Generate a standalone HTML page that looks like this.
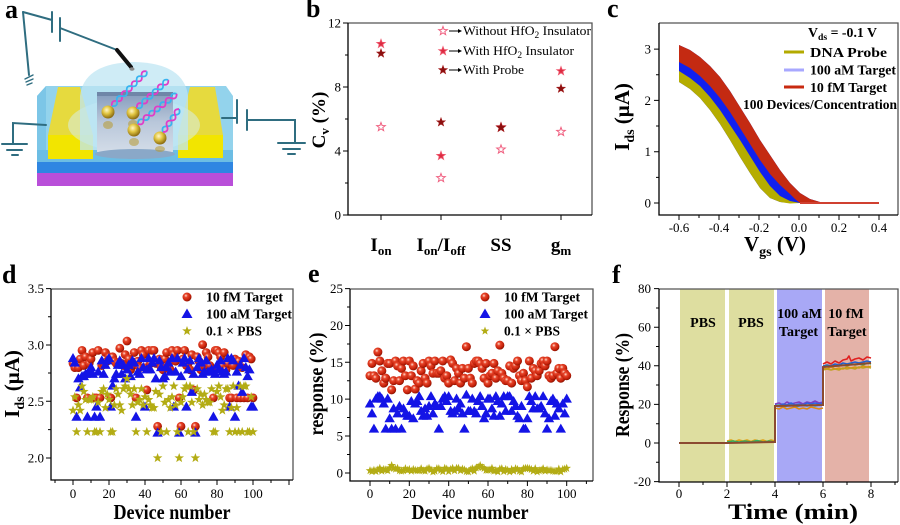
<!DOCTYPE html>
<html><head><meta charset="utf-8">
<style>
html,body{margin:0;padding:0;background:#fff;}
svg{display:block;}
</style></head><body>
<svg width="900" height="525" viewBox="0 0 900 525" xmlns="http://www.w3.org/2000/svg" font-family="'Liberation Serif', serif">
<defs>
<radialGradient id="gball" cx="0.38" cy="0.35" r="0.65">
 <stop offset="0" stop-color="#ffe2d4"/>
 <stop offset="0.3" stop-color="#e8452a"/>
 <stop offset="0.8" stop-color="#c01e08"/>
 <stop offset="1" stop-color="#8a1200"/>
</radialGradient>
<radialGradient id="ggold" cx="0.4" cy="0.35" r="0.65">
 <stop offset="0" stop-color="#fff6c8"/>
 <stop offset="0.45" stop-color="#e2c642"/>
 <stop offset="1" stop-color="#8a6a10"/>
</radialGradient>
<linearGradient id="gbox" x1="0" y1="0" x2="0" y2="1">
 <stop offset="0" stop-color="#8299bb"/>
 <stop offset="0.5" stop-color="#b9c7da"/>
 <stop offset="1" stop-color="#d3dce8"/>
</linearGradient>
<marker id="mball" markerUnits="userSpaceOnUse" markerWidth="10" markerHeight="10" refX="0" refY="0" overflow="visible"><circle r="2.45" fill="url(#gball)"/></marker>
<marker id="mtri" markerUnits="userSpaceOnUse" markerWidth="10" markerHeight="10" refX="0" refY="0" overflow="visible"><polygon points="0,-3.1 2.9,2 -2.9,2" fill="#1414e6"/></marker>
<marker id="mstar" markerUnits="userSpaceOnUse" markerWidth="10" markerHeight="10" refX="0" refY="0" overflow="visible"><polygon points="0,-2.8 0.68,-0.93 2.66,-0.87 1.09,0.36 1.65,2.27 0,1.15 -1.65,2.27 -1.09,0.36 -2.66,-0.87 -0.68,-0.93" fill="#b3ac14"/></marker>
<marker id="mball2" markerUnits="userSpaceOnUse" markerWidth="10" markerHeight="10" refX="0" refY="0" overflow="visible"><circle r="2.3" fill="url(#gball)"/></marker>
<marker id="mtri2" markerUnits="userSpaceOnUse" markerWidth="10" markerHeight="10" refX="0" refY="0" overflow="visible"><polygon points="0,-2.8 2.65,1.8 -2.65,1.8" fill="#1414e6"/></marker>
<marker id="mstar2" markerUnits="userSpaceOnUse" markerWidth="10" markerHeight="10" refX="0" refY="0" overflow="visible"><polygon points="0,-2.3 0.56,-0.76 2.18,-0.71 0.89,0.3 1.35,1.86 0,0.94 -1.35,1.86 -0.89,0.3 -2.18,-0.71 -0.56,-0.76" fill="#b3ac14"/></marker>
</defs>

<!-- ================= PANEL A ================= -->
<g>
 <polygon points="37,173 233,173 233,186 37,186" fill="#b94fd9"/>
 <polygon points="37,162 233,162 233,173 37,173" fill="#2f86e2"/>
 <polygon points="37,96 46,86 226,86 233,96 233,162 37,162" fill="#93d3ec"/>
 <polygon points="37,96 46,86 46,150 37,150" fill="#7cc6e7"/>
 <rect x="37" y="150" width="196" height="12" fill="#6cbde4"/>
 <polygon points="58,87 80,87 93,135 48,135" fill="#e6da3e"/>
 <rect x="48" y="135" width="45" height="24" fill="#f2e500"/>
 <polygon points="190,87 215,87 223,135 178,135" fill="#e6da3e"/>
 <rect x="178" y="135" width="45" height="23" fill="#f2e500"/>
 <ellipse cx="134" cy="125" rx="66" ry="27" fill="#d6eff7" opacity="0.5"/>
 <path d="M80,150 L80,96 Q84,63 134,62 Q184,63 188,96 L188,150 Z" fill="#bfe6f3" opacity="0.75"/>
 <rect x="97" y="92" width="76" height="60" fill="url(#gbox)"/>
 <rect x="97" y="92" width="76" height="4" fill="#6f86a8"/>
 <ellipse cx="135" cy="154" rx="40" ry="5" fill="#8aa8c8"/>
 <g opacity="0.55" fill="#b89a30">
  <ellipse cx="108" cy="125" rx="5" ry="4"/><ellipse cx="133" cy="124" rx="5" ry="4"/><ellipse cx="134" cy="142" rx="5" ry="4"/><ellipse cx="160" cy="149" rx="5" ry="3"/>
 </g>
 <circle cx="108" cy="112" r="6.5" fill="url(#ggold)"/>
 <circle cx="133" cy="113" r="6.5" fill="url(#ggold)"/>
 <circle cx="134" cy="130" r="6.5" fill="url(#ggold)"/>
 <circle cx="160" cy="138" r="6.5" fill="url(#ggold)"/>
 <g fill="none" stroke-width="1.8">
  <g transform="translate(112,106) rotate(-45)"><path d="M0,0 Q3.5,-5 7,0 T14,0 T21,0 T28,0 T35,0 T42,0 T49,0" stroke="#e03cc8"/><path d="M0,0 Q3.5,5 7,0 T14,0 T21,0 T28,0 T35,0 T42,0 T49,0" stroke="#38b4f0"/></g>
  <g transform="translate(137,108) rotate(-42)"><path d="M0,0 Q3.5,-5 7,0 T14,0 T21,0 T28,0 T35,0 T42,0" stroke="#e03cc8"/><path d="M0,0 Q3.5,5 7,0 T14,0 T21,0 T28,0 T35,0 T42,0" stroke="#38b4f0"/></g>
  <g transform="translate(138,124) rotate(-38)"><path d="M0,0 Q3.5,-5 7,0 T14,0 T21,0 T28,0 T35,0 T42,0 T49,0" stroke="#38b4f0"/><path d="M0,0 Q3.5,5 7,0 T14,0 T21,0 T28,0 T35,0 T42,0 T49,0" stroke="#e03cc8"/></g>
  <g transform="translate(163,132) rotate(-55)"><path d="M0,0 Q3.5,-5 7,0 T14,0 T21,0 T28,0" stroke="#38b4f0"/><path d="M0,0 Q3.5,5 7,0 T14,0 T21,0 T28,0" stroke="#e03cc8"/></g>
 </g>
 <g stroke="#2f6d80" stroke-width="2" fill="none" stroke-linecap="round">
  <path d="M23,12 L29,75"/>
  <path d="M23,12 L52,20"/>
  <path d="M52,12 V32"/>
  <path d="M60,18 V41"/>
  <path d="M60,28 L117,50"/>
  <path d="M25,79 L33,75 M26,82 L33,79 M27,85 L32,83" stroke-width="1.4"/>
  <path d="M46,125 L13,123 V143"/>
  <path d="M2,144 H27 M7,150 H22 M12,155 H18"/>
  <path d="M222,118 H237"/>
  <path d="M237,100 V123"/>
  <path d="M247,110 V130"/>
  <path d="M247,120 H295 V143"/>
  <path d="M278,143 H305 M283,149 H300 M288,154 H295"/>
 </g>
 <line x1="117" y1="50" x2="131" y2="67" stroke="#111" stroke-width="4" stroke-linecap="round"/>
 <ellipse cx="132" cy="69" rx="2.5" ry="1.8" fill="#888"/>
 <text x="5" y="18" font-size="26" font-weight="bold">a</text>
</g>

<!-- ================= PANEL B ================= -->
<g>
 <text x="306" y="17" font-size="26" font-weight="bold">b</text>
 <path d="M348,23H592V215" stroke="#555" stroke-width="1.3" fill="none"/>
 <path d="M348,23V215H592" stroke="#000" stroke-width="1.3" fill="none"/>
 <path d="M343,23H348M343,87H348M343,151H348M343,215H348M345,55H348M345,119H348M345,183H348M381,215V220M441,215V220M501,215V220M561,215V220" stroke="#000" stroke-width="1"/>
 <g font-size="13" text-anchor="end">
  <text x="341" y="27.5">12</text><text x="341" y="91.5">8</text><text x="341" y="155.5">4</text><text x="341" y="219.5">0</text>
 </g>
 <g font-size="19" font-weight="bold" text-anchor="middle">
  <text x="381" y="251">I<tspan font-size="13" dy="4">on</tspan></text>
  <text x="441" y="251">I<tspan font-size="13" dy="4">on</tspan><tspan dy="-4">/I</tspan><tspan font-size="13" dy="4">off</tspan></text>
  <text x="501" y="251">SS</text>
  <text x="561" y="251">g<tspan font-size="13" dy="4">m</tspan></text>
 </g>
 <text transform="translate(325,120) rotate(-90)" font-size="19" font-weight="bold" text-anchor="middle">C<tspan font-size="13" dy="4">v</tspan><tspan dy="-4"> (%)</tspan></text>
 <g fill="#fff" stroke="#f06080" stroke-width="1">
  <polygon transform="translate(381,127)" points="0,-4.5 1.1,-1.52 4.28,-1.39 1.79,0.58 2.65,3.64 0,1.88 -2.65,3.64 -1.79,0.58 -4.28,-1.39 -1.1,-1.52"/>
  <polygon transform="translate(441,178)" points="0,-4.5 1.1,-1.52 4.28,-1.39 1.79,0.58 2.65,3.64 0,1.88 -2.65,3.64 -1.79,0.58 -4.28,-1.39 -1.1,-1.52"/>
  <polygon transform="translate(501,149.4)" points="0,-4.5 1.1,-1.52 4.28,-1.39 1.79,0.58 2.65,3.64 0,1.88 -2.65,3.64 -1.79,0.58 -4.28,-1.39 -1.1,-1.52"/>
  <polygon transform="translate(561,131.8)" points="0,-4.5 1.1,-1.52 4.28,-1.39 1.79,0.58 2.65,3.64 0,1.88 -2.65,3.64 -1.79,0.58 -4.28,-1.39 -1.1,-1.52"/>
  <polygon transform="translate(443,31)" points="0,-4.5 1.1,-1.52 4.28,-1.39 1.79,0.58 2.65,3.64 0,1.88 -2.65,3.64 -1.79,0.58 -4.28,-1.39 -1.1,-1.52"/>
 </g>
 <g fill="#dc2a40" stroke="#f05a70" stroke-width="0.8">
  <polygon transform="translate(381,43.8)" points="0,-4.5 1.1,-1.52 4.28,-1.39 1.79,0.58 2.65,3.64 0,1.88 -2.65,3.64 -1.79,0.58 -4.28,-1.39 -1.1,-1.52"/>
  <polygon transform="translate(441,155.8)" points="0,-4.5 1.1,-1.52 4.28,-1.39 1.79,0.58 2.65,3.64 0,1.88 -2.65,3.64 -1.79,0.58 -4.28,-1.39 -1.1,-1.52"/>
  <polygon transform="translate(501,127)" points="0,-4.5 1.1,-1.52 4.28,-1.39 1.79,0.58 2.65,3.64 0,1.88 -2.65,3.64 -1.79,0.58 -4.28,-1.39 -1.1,-1.52"/>
  <polygon transform="translate(561,71)" points="0,-4.5 1.1,-1.52 4.28,-1.39 1.79,0.58 2.65,3.64 0,1.88 -2.65,3.64 -1.79,0.58 -4.28,-1.39 -1.1,-1.52"/>
  <polygon transform="translate(443,51)" points="0,-4.5 1.1,-1.52 4.28,-1.39 1.79,0.58 2.65,3.64 0,1.88 -2.65,3.64 -1.79,0.58 -4.28,-1.39 -1.1,-1.52"/>
 </g>
 <g fill="#8b0f0f" stroke="#a01818" stroke-width="0.6">
  <polygon transform="translate(381,53.4)" points="0,-4.5 1.1,-1.52 4.28,-1.39 1.79,0.58 2.65,3.64 0,1.88 -2.65,3.64 -1.79,0.58 -4.28,-1.39 -1.1,-1.52"/>
  <polygon transform="translate(441,122.2)" points="0,-4.5 1.1,-1.52 4.28,-1.39 1.79,0.58 2.65,3.64 0,1.88 -2.65,3.64 -1.79,0.58 -4.28,-1.39 -1.1,-1.52"/>
  <polygon transform="translate(501,127.5) scale(1.1)" points="0,-4.5 1.1,-1.52 4.28,-1.39 1.79,0.58 2.65,3.64 0,1.88 -2.65,3.64 -1.79,0.58 -4.28,-1.39 -1.1,-1.52"/>
  <polygon transform="translate(561,88.6)" points="0,-4.5 1.1,-1.52 4.28,-1.39 1.79,0.58 2.65,3.64 0,1.88 -2.65,3.64 -1.79,0.58 -4.28,-1.39 -1.1,-1.52"/>
  <polygon transform="translate(443,70)" points="0,-4.5 1.1,-1.52 4.28,-1.39 1.79,0.58 2.65,3.64 0,1.88 -2.65,3.64 -1.79,0.58 -4.28,-1.39 -1.1,-1.52"/>
 </g>
 <g stroke="#000" stroke-width="1">
  <line x1="449" y1="31" x2="459" y2="31"/><line x1="449" y1="51" x2="459" y2="51"/><line x1="449" y1="70" x2="459" y2="70"/>
 </g>
 <g fill="#000">
  <polygon points="458,29 462,31 458,33"/><polygon points="458,49 462,51 458,53"/><polygon points="458,68 462,70 458,72"/>
 </g>
 <g font-size="13">
  <text x="463" y="35" textLength="128" lengthAdjust="spacingAndGlyphs">Without HfO<tspan font-size="9" dy="3">2</tspan><tspan dy="-3"> Insulator</tspan></text>
  <text x="463" y="55" textLength="111" lengthAdjust="spacingAndGlyphs">With HfO<tspan font-size="9" dy="3">2</tspan><tspan dy="-3"> Insulator</tspan></text>
  <text x="463" y="74" textLength="61" lengthAdjust="spacingAndGlyphs">With Probe</text>
 </g>
</g>

<!-- ================= PANEL C ================= -->
<g>
 <text x="607" y="17" font-size="26" font-weight="bold">c</text>
 <polygon fill="#1020ee" points="679,45 690,50 700,57 710,66 720,77 730,91 740,107 750,123 760,140 770,155 780,170 790,183 800,193 810,199 820,202 830,203 790,203 780,202 770,198 760,188 750,173 740,157 730,140 720,124 710,110 700,98 690,89 679,82"/>
 <polygon fill="#b5ad00" points="679,71 690,78 700,86 710,97 720,110 730,125 740,140 750,156 760,172 770,186 780,196 790,201 800,203 790,203.5 780,202 770,198 760,188 750,173 740,157 730,140 720,124 710,110 700,98 690,89 679,82"/>
 <polygon fill="#c42a12" points="679,45 690,50 700,57 710,66 720,77 730,91 740,107 750,123 760,140 770,155 780,170 790,183 800,193 810,199 820,202 830,203 830,204 810,204 800,203 795,199 790,194 780,185 770,174 760,160 750,144 740,128 730,112 720,98 710,86 700,76 690,68 679,62"/>
 <line x1="800" y1="203" x2="879" y2="203" stroke="#d04030" stroke-width="2"/>
 <path d="M659,23H898V215" stroke="#555" stroke-width="1.3" fill="none"/>
 <path d="M659,23V215H898" stroke="#000" stroke-width="1.3" fill="none"/>
 <path d="M654,203H659M654,151.7H659M654,100.4H659M654,49.1H659M656,177.4H659M656,126H659M656,74.8H659M679,215V220M719,215V220M759,215V220M799,215V220M839,215V220M879,215V220M699,215V218M739,215V218M779,215V218M819,215V218M859,215V218" stroke="#000" stroke-width="1"/>
 <g font-size="13" text-anchor="end">
  <text x="651" y="207.5">0</text><text x="651" y="156">1</text><text x="651" y="105">2</text><text x="651" y="53.5">3</text>
 </g>
 <g font-size="13" text-anchor="middle">
  <text x="679" y="232">-0.6</text><text x="719" y="232">-0.4</text><text x="759" y="232">-0.2</text><text x="799" y="232">0.0</text><text x="839" y="232">0.2</text><text x="879" y="232">0.4</text>
 </g>
 <text x="775" y="251" font-size="21" font-weight="bold" text-anchor="middle">V<tspan font-size="14" dy="5">gs</tspan><tspan dy="-5"> (V)</tspan></text>
 <text transform="translate(629,117) rotate(-90)" font-size="21" font-weight="bold" text-anchor="middle">I<tspan font-size="14" dy="5">ds</tspan><tspan dy="-5"> (μA)</tspan></text>
 <text x="808" y="37" font-size="13.5" font-weight="bold" textLength="69" lengthAdjust="spacingAndGlyphs">V<tspan font-size="9.5" dy="3">ds</tspan><tspan dy="-3"> = -0.1 V</tspan></text>
 <line x1="784" y1="52" x2="804" y2="52" stroke="#b3aa00" stroke-width="3"/>
 <line x1="784" y1="70" x2="804" y2="70" stroke="#a8a8ff" stroke-width="3"/>
 <line x1="784" y1="87" x2="804" y2="87" stroke="#c82a10" stroke-width="3"/>
 <g font-size="14" font-weight="bold">
  <text x="810" y="57" textLength="77" lengthAdjust="spacingAndGlyphs">DNA Probe</text>
  <text x="810" y="74.5" textLength="86" lengthAdjust="spacingAndGlyphs">100 aM Target</text>
  <text x="810" y="92" textLength="77" lengthAdjust="spacingAndGlyphs">10 fM Target</text>
  <text x="743" y="109" font-size="13.5" textLength="154" lengthAdjust="spacingAndGlyphs">100 Devices/Concentration</text>
 </g>
</g>

<!-- ================= PANEL D ================= -->
<g>
 <text x="2" y="283" font-size="26" font-weight="bold">d</text>
 <g transform="translate(73,458) scale(1.8)">
  <polyline fill="none" stroke="none" marker-start="url(#mball)" marker-mid="url(#mball)" marker-end="url(#mball)" points="0,-52.6 1,-50.2 2,-33.4 3,-50.2 4,-55 5,-59.8 6,-51.4 7,-56.2 8,-33.4 9,-52.6 10,-55 11,-58.6 12,-33.4 13,-33.4 14,-59.8 15,-33.4 16,-51.4 17,-52.6 18,-58.6 19,-53.8 20,-56.2 21,-33.4 22,-56.2 23,-53.8 24,-52.6 25,-52.6 26,-61 27,-52.6 28,-51.4 29,-57.4 30,-65 31,-55 32,-49 33,-51.4 34,-58.6 35,-33.4 36,-53.8 37,-50.2 38,-59.8 39,-57.4 40,-50.2 41,-37.8 42,-59.8 43,-52.6 44,-59.8 45,-59.8 46,-52.6 47,-17.6 48,-55 49,-50.2 50,-49 51,-55 52,-58.6 53,-51.4 54,-49 55,-59.8 56,-57.4 57,-53.8 58,-59.8 59,-33.4 60,-17.6 61,-55 62,-59.8 63,-51.4 64,-52.6 65,-49 66,-57.4 67,-37.8 68,-17.6 69,-56.2 70,-53.8 71,-49 72,-63 73,-51.4 74,-58.6 75,-56.2 76,-51.4 77,-49 78,-33.4 79,-59.8 80,-59.8 81,-58.6 82,-56.2 83,-51.4 84,-58.6 85,-49 86,-52.6 87,-33.4 88,-33.4 89,-51.4 90,-55 91,-33.4 92,-53.8 93,-33.4 94,-50.2 95,-33.4 96,-57.4 97,-33.4 98,-56.2 99,-55 100,-33.4"/>
  <polyline fill="none" stroke="none" marker-start="url(#mtri)" marker-mid="url(#mtri)" marker-end="url(#mtri)" points="0,-55.25 1,-52.75 2,-22.7 3,-44 4,-39 5,-45.25 6,-45.25 7,-46.5 8,-22.7 9,-47.75 10,-50.25 11,-46.5 12,-22.7 13,-28.3 14,-47.75 15,-22.7 16,-54 17,-46.5 18,-51.5 19,-54 20,-55.25 21,-28.3 22,-40 23,-44 24,-46.5 25,-51.5 26,-54 27,-46.5 28,-51.5 29,-44 30,-49 31,-51.5 32,-45.25 33,-54 34,-52.75 35,-22.7 36,-47.75 37,-46.5 38,-55.25 39,-50.25 40,-28.3 41,-49 42,-55.25 43,-49 44,-52.75 45,-55.25 46,-44 47,-13.9 48,-54 49,-50.25 50,-44 51,-45.25 52,-50.25 53,-52.75 54,-47.75 55,-55.25 56,-28.3 57,-47.75 58,-55.25 59,-13.9 60,-45.25 61,-52.75 62,-55.25 63,-28.3 64,-49 65,-54 66,-36.5 67,-46.5 68,-13.9 69,-50.25 70,-55.25 71,-52.75 72,-46.5 73,-47.75 74,-54 75,-47.75 76,-47.75 77,-49 78,-22.7 79,-46.5 80,-51.5 81,-49 82,-54 83,-47.75 84,-46.5 85,-47.75 86,-55.25 87,-28.3 88,-55.25 89,-54 90,-22.7 91,-47.75 92,-40 93,-51.5 94,-36.5 95,-55.25 96,-50.25 97,-45.25 98,-49 99,-28.3 100,-28.3"/>
  <polyline fill="none" stroke="none" marker-start="url(#mstar)" marker-mid="url(#mstar)" marker-end="url(#mstar)" points="0,-26.4 1,-33.9 2,-14.5 3,-29.4 4,-26.4 5,-39.9 6,-36.9 7,-32.4 8,-14.5 9,-32.4 10,-32.4 11,-33.9 12,-14.5 13,-14.5 14,-30.9 15,-14.5 16,-36.9 17,-38.4 18,-27.9 19,-35.4 20,-32.4 21,-14.5 22,-14.5 23,-29.4 24,-38.4 25,-35.4 26,-29.4 27,-26.4 28,-38.4 29,-39.9 30,-44 31,-38.4 32,-35.4 33,-29.4 34,-38.4 35,-14.5 36,-30.9 37,-32.4 38,-38.4 39,-29.4 40,-33.9 41,-14.5 42,-32.4 43,-29.4 44,-27.9 45,-27.9 46,-36.9 47,0 48,-35.4 49,-14.5 50,-39.9 51,-30.9 52,-14.5 53,-32.4 54,-27.9 55,-33.9 56,-39.9 57,-29.4 58,-14.5 59,0 60,-30.9 61,-33.9 62,-38.4 63,-39.9 64,-14.5 65,-39.9 66,-30.9 67,-14.5 68,0 69,-38.4 70,-32.4 71,-35.4 72,-29.4 73,-35.4 74,-32.4 75,-30.9 76,-30.9 77,-38.4 78,-14.5 79,-14.5 80,-36.9 81,-39.9 82,-33.9 83,-26.4 84,-29.4 85,-38.4 86,-38.4 87,-14.5 88,-27.9 89,-39.9 90,-14.5 91,-27.9 92,-14.5 93,-39.9 94,-14.5 95,-39.9 96,-39.9 97,-14.5 98,-14.5 99,-33.9 100,-14.5"/>
 </g>
 <path d="M51,289H293V480" stroke="#555" stroke-width="1.3" fill="none"/>
 <path d="M51,289V480H293" stroke="#000" stroke-width="1.3" fill="none"/>
 <path d="M46,288.6H51M46,345H51M46,401.3H51M46,458H51M48,316.8H51M48,373H51M48,429.6H51M73,480V485M109,480V485M145,480V485M181,480V485M217,480V485M253,480V485M289,480V485M55,480V483M91,480V483M127,480V483M163,480V483M199,480V483M235,480V483M271,480V483" stroke="#000" stroke-width="1"/>
 <g font-size="13" text-anchor="end">
  <text x="44" y="293">3.5</text><text x="44" y="349.5">3.0</text><text x="44" y="406">2.5</text><text x="44" y="462.5">2.0</text>
 </g>
 <g font-size="13" text-anchor="middle">
  <text x="73" y="498">0</text><text x="109" y="498">20</text><text x="145" y="498">40</text><text x="181" y="498">60</text><text x="217" y="498">80</text><text x="253" y="498">100</text>
 </g>
 <text x="172" y="519" font-size="21" font-weight="bold" text-anchor="middle" textLength="117" lengthAdjust="spacingAndGlyphs">Device number</text>
 <text transform="translate(19,384) rotate(-90)" font-size="21" font-weight="bold" text-anchor="middle">I<tspan font-size="14" dy="5">ds</tspan><tspan dy="-5"> (μA)</tspan></text>
 <circle cx="187" cy="297" r="4.5" fill="url(#gball)"/>
 <polygon points="187,308.5 192.5,318 181.5,318" fill="#1414e6"/>
 <polygon transform="translate(187,331) scale(1.8)" points="0,-2.8 0.68,-0.93 2.66,-0.87 1.09,0.36 1.65,2.27 0,1.15 -1.65,2.27 -1.09,0.36 -2.66,-0.87 -0.68,-0.93" fill="#b3ac14"/>
 <g font-size="14" font-weight="bold">
  <text x="206" y="301.5" textLength="77" lengthAdjust="spacingAndGlyphs">10 fM Target</text>
  <text x="206" y="318.5" textLength="86" lengthAdjust="spacingAndGlyphs">100 aM Target</text>
  <text x="206" y="335.5" textLength="56" lengthAdjust="spacingAndGlyphs">0.1 × PBS</text>
 </g>
</g>

<!-- ================= PANEL E ================= -->
<g>
 <text x="308" y="282" font-size="26" font-weight="bold">e</text>
 <g transform="translate(370,473) scale(1.967)">
  <g transform="translate(0,1.5)">
  <polyline fill="none" stroke="none" marker-start="url(#mball2)" marker-mid="url(#mball2)" marker-end="url(#mball2)" points="0,-50.95 1,-57.2 2,-50.95 3,-49.7 4,-63 5,-58.45 6,-53.45 7,-47.2 8,-49.7 9,-57.2 10,-57.2 11,-43.8 12,-48.45 13,-58.45 14,-55.95 15,-48.45 16,-54.7 17,-58.45 18,-50.95 19,-43.8 20,-58.45 21,-50.95 22,-55.95 23,-44.2 24,-48.45 25,-47.2 26,-53.45 27,-57.2 28,-49.7 29,-47.2 30,-58.45 31,-55.95 32,-52.2 33,-58.45 34,-52.2 35,-52.2 36,-53.45 37,-58.45 38,-49.7 39,-50.95 40,-47.2 41,-59 42,-57.2 43,-48.45 44,-54.7 45,-52.2 46,-47.2 47,-54.7 48,-49.7 49,-65.7 50,-54.7 51,-49.7 52,-47.2 53,-57.2 54,-58.45 55,-58.45 56,-57.2 57,-54.7 58,-49.7 59,-57.2 60,-47.2 61,-50.95 62,-52.2 63,-57.2 64,-49.7 65,-53.45 66,-66.5 67,-52.2 68,-49.7 69,-48.45 70,-48.45 71,-55.95 72,-47.2 73,-54.7 74,-55.95 75,-58.45 76,-50.95 77,-48.45 78,-52.2 79,-48.45 80,-45.3 81,-58.45 82,-49.7 83,-54.7 84,-53.45 85,-50.95 86,-53.45 87,-57.2 88,-58.45 89,-55.95 90,-58.45 91,-50.95 92,-49.7 93,-50.95 94,-65.7 95,-52.2 96,-54.7 97,-49.7 98,-54.7 99,-52.2 100,-50.95"/>
  </g>
  <polyline fill="none" stroke="none" marker-start="url(#mtri2)" marker-mid="url(#mtri2)" marker-end="url(#mtri2)" points="0,-35.1 1,-30.1 2,-22.3 3,-37.6 4,-38.85 5,-38.85 6,-37.6 7,-35.1 8,-22.3 9,-37.6 10,-27.6 11,-22.3 12,-32.6 13,-22.3 14,-30.1 15,-33.85 16,-22.3 17,-32.6 18,-30.1 19,-28.85 20,-28.85 21,-36.35 22,-27.6 23,-35.1 24,-36.35 25,-38.85 26,-31.35 27,-28.85 28,-32.6 29,-28.85 30,-33.85 31,-38.85 32,-30.1 33,-35.1 34,-33.85 35,-22.3 36,-33.85 37,-37.6 38,-38.85 39,-36.35 40,-38.85 41,-31.35 42,-30.1 43,-31.35 44,-37.6 45,-32.6 46,-35.1 47,-30.1 48,-22.3 49,-39.6 50,-31.35 51,-31.35 52,-37.6 53,-31.35 54,-30.1 55,-36.35 56,-38.85 57,-33.85 58,-27.6 59,-30.1 60,-37.6 61,-37.6 62,-32.6 63,-28.85 64,-38.85 65,-36.35 66,-28.85 67,-35.1 68,-38.85 69,-31.35 70,-38.85 71,-38.85 72,-31.35 73,-36.35 74,-33.85 75,-28.85 76,-27.6 77,-33.85 78,-22.3 79,-22.3 80,-27.6 81,-38.85 82,-36.35 83,-32.6 84,-38.85 85,-32.6 86,-32.6 87,-33.85 88,-38.85 89,-30.1 90,-22.3 91,-27.6 92,-36.35 93,-37.6 94,-28.85 95,-35.1 96,-32.6 97,-22.3 98,-35.1 99,-30.1 100,-37.6"/>
  <polyline fill="none" stroke="#b3ac14" stroke-width="1" marker-start="url(#mstar2)" marker-mid="url(#mstar2)" marker-end="url(#mstar2)" points="0,-1.2 1,-0.8 2,-1.4 3,-0.8 4,-1.6 5,-2.4 6,-1 7,-1.8 8,-1.6 9,-1.2 10,-2.6 11,-3.8 12,-2.4 13,-2 14,-2.4 15,-1.2 16,-1 17,-1.2 18,-2.2 19,-1.4 20,-1.8 21,-1 22,-1.8 23,-1.4 24,-1.2 25,-1.2 26,-2.2 27,-1.2 28,-1 29,-2 30,-2.4 31,-1.6 32,-0.6 33,-1 34,-2.2 35,-2.2 36,-1.4 37,-0.8 38,-2.4 39,-2 40,-0.8 41,-1.8 42,-2.4 43,-1.2 44,-2.4 45,-2.4 46,-1.2 47,-2 48,-1.6 49,-0.8 50,-0.6 51,-1.6 52,-2.2 53,-1 54,-2.6 55,-3 56,-3.8 57,-2.8 58,-2.4 59,-1.4 60,-1.4 61,-1.6 62,-2.4 63,-1 64,-1.2 65,-0.6 66,-2 67,-2.2 68,-0.8 69,-1.8 70,-1.4 71,-0.6 72,-1.8 73,-1 74,-2.2 75,-1.8 76,-1 77,-0.6 78,-2.2 79,-2.4 80,-2.4 81,-2.2 82,-1.8 83,-1 84,-2.2 85,-0.6 86,-1.2 87,-1.4 88,-2.2 89,-1 90,-1.6 91,-1.2 92,-1.4 93,-1 94,-0.8 95,-0.8 96,-2 97,-0.6 98,-1.8 99,-2 100,-2.4"/>
 </g>
 <path d="M350,289H593V481" stroke="#555" stroke-width="1.3" fill="none"/>
 <path d="M350,289V481H593" stroke="#000" stroke-width="1.3" fill="none"/>
 <path d="M345,288.6H350M345,325.5H350M345,362.3H350M345,399.1H350M345,436H350M345,473H350M347,307H350M347,344H350M347,380.7H350M347,417.5H350M347,454.5H350M370,481V486M409.3,481V486M448.7,481V486M488,481V486M527.4,481V486M566.7,481V486M389.7,481V484M429,481V484M468.4,481V484M507.7,481V484M547,481V484M586.4,481V484" stroke="#000" stroke-width="1"/>
 <g font-size="13" text-anchor="end">
  <text x="343" y="293">25</text><text x="343" y="330">20</text><text x="343" y="367">15</text><text x="343" y="403.5">10</text><text x="343" y="440.5">5</text><text x="343" y="477.5">0</text>
 </g>
 <g font-size="13" text-anchor="middle">
  <text x="370" y="498">0</text><text x="409.3" y="498">20</text><text x="448.7" y="498">40</text><text x="488" y="498">60</text><text x="527.4" y="498">80</text><text x="566.7" y="498">100</text>
 </g>
 <text x="470" y="519" font-size="21" font-weight="bold" text-anchor="middle" textLength="117" lengthAdjust="spacingAndGlyphs">Device number</text>
 <text transform="translate(323,384) rotate(-90)" font-size="20" font-weight="bold" text-anchor="middle" textLength="103" lengthAdjust="spacingAndGlyphs">response (%)</text>
 <circle cx="485" cy="297" r="4.5" fill="url(#gball)"/>
 <polygon points="485,308.5 490.5,318 479.5,318" fill="#1414e6"/>
 <polygon transform="translate(485,331) scale(1.6)" points="0,-2.8 0.68,-0.93 2.66,-0.87 1.09,0.36 1.65,2.27 0,1.15 -1.65,2.27 -1.09,0.36 -2.66,-0.87 -0.68,-0.93" fill="#b3ac14"/>
 <g font-size="14" font-weight="bold">
  <text x="504" y="301.5" textLength="76" lengthAdjust="spacingAndGlyphs">10 fM Target</text>
  <text x="504" y="318.5" textLength="84" lengthAdjust="spacingAndGlyphs">100 aM Target</text>
  <text x="504" y="335.5" textLength="56" lengthAdjust="spacingAndGlyphs">0.1 × PBS</text>
 </g>
</g>

<!-- ================= PANEL F ================= -->
<g>
 <text x="612" y="283" font-size="26" font-weight="bold">f</text>
 <rect x="680" y="289" width="45" height="193" fill="#dedea0"/>
 <rect x="729" y="289" width="45" height="193" fill="#dedea0"/>
 <rect x="777" y="289" width="45" height="193" fill="#a8a8f6"/>
 <rect x="825" y="289" width="44" height="193" fill="#e4b2a8"/>
 <g font-size="14" font-weight="bold" text-anchor="middle">
  <text x="703" y="327">PBS</text>
  <text x="751" y="327">PBS</text>
  <text x="799.5" y="318">100 aM</text>
  <text x="798.5" y="336">Target</text>
  <text x="846" y="318">10 fM</text>
  <text x="847" y="336">Target</text>
 </g>
 <g fill="none" stroke-width="1.6" stroke-linejoin="round">
  <polyline stroke="#e0a010" points="727,441 731,440 735,441.5 739,440 743,441 747,440 751,441.5 755,440 759,441 763,440 767,441.5 771,440 775,441"/>
  <polyline stroke="#30b060" points="727,442 733,441 739,442 745,441 751,442 757,440.5 763,442 769,441 775,442"/>
  <polyline stroke="#8040c0" points="775,404 779,403 783,405 787,402 791,404 795,403 799,402 803,404 807,402 811,403 815,401 819,403 823,402"/>
  <polyline stroke="#3060e0" points="775,405 779,406 783,404 787,405 791,403 795,405 799,404 803,405 807,403 811,404 815,403 819,404 823,403"/>
  <polyline stroke="#20b0b0" points="775,406 779,405 783,407 787,406 791,405 795,407 799,406 803,405 807,406 811,405 815,406 819,405 823,405"/>
  <polyline stroke="#e08a10" points="775,408 779,409 783,407 787,409 791,408 795,407 799,409 803,408 807,409 811,407 815,408 819,409 823,408"/>
  <polyline stroke="#e02020" points="823,364 827,362 831,364 835,361 839,363 843,360 847,359 849,356 851,361 855,359 859,358 863,360 867,357 871,358"/>
  <polyline stroke="#2060d0" points="823,366 827,365 831,366 835,364 839,365 843,363 847,364 851,363 855,362 859,363 863,362 867,361 871,362"/>
  <polyline stroke="#30a060" points="823,367 827,366 831,367 835,366 839,366 843,365 847,366 851,364 855,365 859,364 863,365 867,363 871,364"/>
  <polyline stroke="#e09010" points="823,368 827,369 831,367 835,369 839,368 843,369 847,367 851,368 855,367 859,368 863,366 867,367 871,366"/>
  <polyline stroke="#c0a020" points="823,370 827,369 831,370 835,369 839,370 843,368 847,369 851,368 855,369 859,367 863,368 867,367 871,368"/>
 </g>
 <path d="M679,443H727L775,442V406L823,405V367L871,363" stroke="#8b4a30" stroke-width="2" fill="none"/>
 <path d="M659,289H898V482" stroke="#555" stroke-width="1.3" fill="none"/>
 <path d="M659,289V482H898" stroke="#000" stroke-width="1.3" fill="none"/>
 <path d="M654,288.6H659M654,327.2H659M654,365.8H659M654,404.4H659M654,443H659M654,481.6H659M656,308H659M656,346.5H659M656,385H659M656,423.7H659M656,462.3H659M679,482V487M727,482V487M775,482V487M823,482V487M871,482V487M703,482V485M751,482V485M799,482V485M847,482V485M895,482V485" stroke="#000" stroke-width="1"/>
 <g font-size="13" text-anchor="end">
  <text x="651" y="293">80</text><text x="651" y="331.6">60</text><text x="651" y="370">40</text><text x="651" y="408.5">20</text><text x="651" y="447.5">0</text><text x="651" y="486">-20</text>
 </g>
 <g font-size="13" text-anchor="middle">
  <text x="679" y="498">0</text><text x="727" y="498">2</text><text x="775" y="498">4</text><text x="823" y="498">6</text><text x="871" y="498">8</text>
 </g>
 <text x="793" y="519" font-size="22" font-weight="bold" text-anchor="middle" textLength="130" lengthAdjust="spacingAndGlyphs">Time (min)</text>
 <text transform="translate(629,385) rotate(-90)" font-size="20" font-weight="bold" text-anchor="middle" textLength="104" lengthAdjust="spacingAndGlyphs">Response (%)</text>
</g>
</svg>
</body></html>
